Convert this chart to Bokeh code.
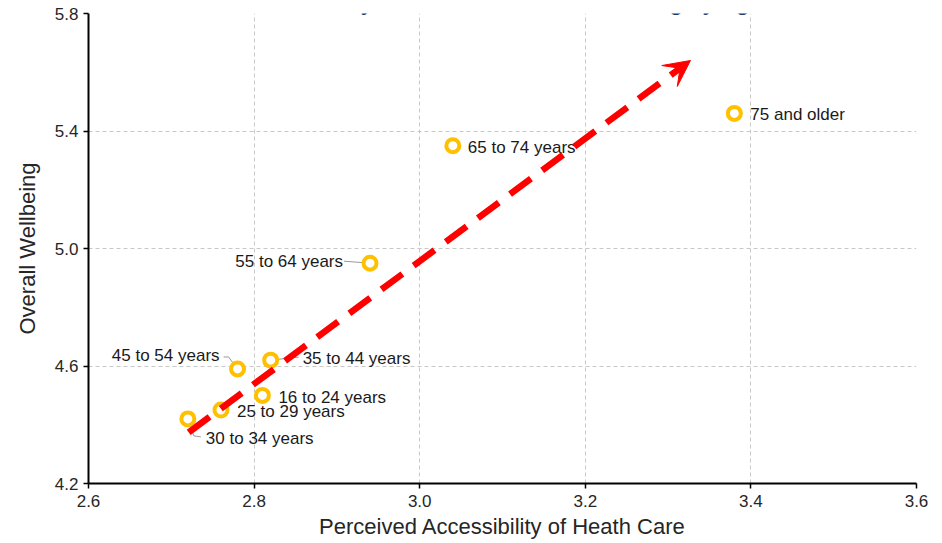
from bokeh.plotting import figure
from bokeh.models import (Range1d, ColumnDataSource, Arrow, VeeHead, FixedTicker,
                          NumeralTickFormatter, Label)
from bokeh.embed import file_html
from bokeh.resources import INLINE
from bokeh.core.properties import value

# ---- data ----
groups = ["75 and older", "65 to 74 years", "55 to 64 years", "35 to 44 years",
          "45 to 54 years", "16 to 24 years", "25 to 29 years", "30 to 34 years"]
access = [3.38, 3.04, 2.94, 2.82, 2.78, 2.81, 2.76, 2.72]
wellbeing = [5.46, 5.35, 4.95, 4.62, 4.59, 4.50, 4.45, 4.42]
x_ticks = [2.6, 2.8, 3.0, 3.2, 3.4, 3.6]
y_ticks = [4.2, 4.6, 5.0, 5.4, 5.8]
trend_start = (2.721, 4.374)
trend_end = (3.327, 5.64)
title_text = "Accessibility of Health Care and Wellbeing by Age"
corner_text = "2"

# ---- label placement (pixel offsets, style) ----
lab_dx = [16, 15, -27, 32, -18, 16, 16, 18]
lab_dy = [1, 2, -2, -2, -13, 2, 1, 20]
lab_align = ["left", "left", "right", "left", "right", "left", "left", "left"]

FW, FH = 828, 470
px_x = FW / (x_ticks[-1] - x_ticks[0])
px_y = FH / (y_ticks[-1] - y_ticks[0])

# leader line pixel paths (relative to point)
leaders = {
    "55 to 64 years": [(0, 0), (-26, -2)],
    "45 to 54 years": [(0, 0), (-9, -12), (-14, -12)],
    "35 to 44 years": [(0, 0), (28, -3)],
    "30 to 34 years": [(0, 0), (6, 17), (13, 18)],
}

p = figure(width=942, height=543, output_backend="svg", toolbar_location=None,
           x_range=Range1d(x_ticks[0], x_ticks[-1]), y_range=Range1d(y_ticks[0], y_ticks[-1]),
           min_border_left=88, min_border_right=26, min_border_top=13, min_border_bottom=60)
p.outline_line_color = None
p.background_fill_color = "white"
p.border_fill_color = "white"

FONT = "Liberation Sans"
for ax, ticks in ((p.xaxis, x_ticks), (p.yaxis, y_ticks)):
    ax.ticker = FixedTicker(ticks=ticks)
    ax.formatter = NumeralTickFormatter(format="0.0")
    ax.axis_line_color = "black"
    ax.axis_line_width = 2
    ax.major_tick_line_color = "black"
    ax.major_tick_line_width = 1.5
    ax.major_tick_out = 5
    ax.major_tick_in = 0
    ax.minor_tick_line_color = None
    ax.major_label_text_font = FONT
    ax.major_label_text_font_size = "17px"
    ax.major_label_text_color = "#262626"
    ax.axis_label_text_font = FONT
    ax.axis_label_text_font_size = "22px"
    ax.axis_label_text_font_style = "normal"
    ax.axis_label_text_color = "#262626"

p.xaxis.axis_label = "Perceived Accessibility of Heath Care"
p.yaxis.axis_label = "Overall Wellbeing"
p.xaxis.major_label_standoff = 6
p.yaxis.major_label_standoff = 5
p.xaxis.axis_label_standoff = 4
p.yaxis.axis_label_standoff = 12

for g in (p.xgrid, p.ygrid):
    g.grid_line_color = "#c8c8c8"
    g.grid_line_dash = "4 3"
    g.grid_line_width = 1
p.xgrid.ticker = FixedTicker(ticks=x_ticks)
p.ygrid.ticker = FixedTicker(ticks=y_ticks)

# leader lines
lx, ly = [], []
for g, xv, yv in zip(groups, access, wellbeing):
    if g in leaders:
        lx.append([xv + dx / px_x for dx, dy in leaders[g]])
        ly.append([yv - dy / px_y for dx, dy in leaders[g]])
p.multi_line(lx, ly, line_color="#9a9a9a", line_width=1)

# trend arrow
p.add_layout(Arrow(x_start=trend_start[0], y_start=trend_start[1],
                   x_end=trend_end[0], y_end=trend_end[1],
                   line_color="#ff0000", line_width=6.5, line_dash="26 14",
                   end=VeeHead(size=26, fill_color="#ff0000", line_color="#ff0000", line_width=1)))

# points
src = ColumnDataSource(dict(x=access, y=wellbeing, label=groups, dx=lab_dx, dy=lab_dy, align=lab_align))
p.scatter("x", "y", source=src, marker="circle", size=13, fill_color="white",
          line_color="#ffc000", line_width=4)

p.text("x", "y", text="label", source=src, x_offset="dx", y_offset="dy",
       text_align="align", text_baseline="middle",
       text_font=value(FONT), text_font_size="17px", text_color="#1a1a1a")

# title (mostly cut off above the picture) and cut-off corner text
p.add_layout(Label(x=674, y=FH + 11.5, x_units="screen", y_units="screen", text=title_text,
                   text_align="right", text_baseline="alphabetic",
                   text_font=FONT, text_font_size="22px", text_font_style="bold",
                   text_color="#1f3a6e"))
p.add_layout(Label(x=-90.5, y=-31, x_units="screen", y_units="screen", text=corner_text,
                   text_align="left", text_baseline="alphabetic",
                   text_font=FONT, text_font_size="17px", text_font_style="normal",
                   text_color="#262626"))

open("out.html", "w").write(file_html(p, INLINE))
